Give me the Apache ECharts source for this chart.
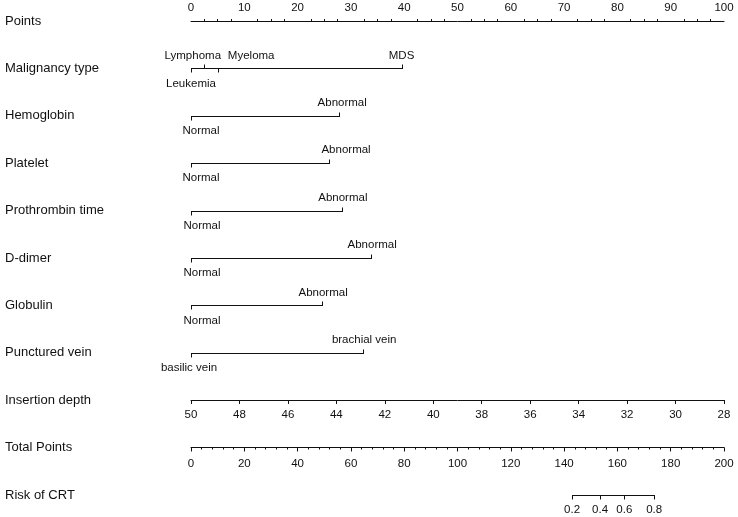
<!DOCTYPE html>
<html>
<head>
<meta charset="utf-8">
<script src="https://cdn.jsdelivr.net/npm/echarts@6/dist/echarts.min.js"></script>
<style>
  html, body { margin: 0; padding: 0; background: #fff; }
  #chart { width: 738px; height: 517px; }
</style>
</head>
<body>
<div id="chart"></div>
<script>
// row names, top to bottom
const rowNames = [
  'Points', 'Malignancy type', 'Hemoglobin', 'Platelet', 'Prothrombin time',
  'D-dimer', 'Globulin', 'Punctured vein', 'Insertion depth', 'Total Points', 'Risk of CRT'
];

// categorical predictors: level names and their points
const malignancyLevels = ['Leukemia', 'Lymphoma', 'Myeloma', 'MDS'];
const malignancyPoints = [0, 2.4, 5.1, 39.5];
const binaryLevels = ['Normal', 'Abnormal'];
const hemoglobinPoints = [0, 27.8];
const plateletPoints = [0, 25.9];
const prothrombinPoints = [0, 28.3];
const ddimerPoints = [0, 33.8];
const globulinPoints = [0, 24.6];
const veinLevels = ['basilic vein', 'brachial vein'];
const veinPoints = [0, 32.3];

// continuous scales
const pointsRange = [0, 100];
const depthRange = [28, 50];
const totalRange = [0, 200];

// risk axis: probabilities and where they sit on the total points scale
const riskLabels = ['0.2', '0.4', '0.6', '0.8'];
const riskTotalPoints = [143, 153.5, 162.6, 173.8];

const INK = '#111';
const FONT = '"Liberation Sans", Arial, sans-serif';
const UP = 1, DOWN = -1;

// tick direction, label side and small label nudges in px
const rows = [
  { row: 1, pts: malignancyPoints, labels: malignancyLevels,
    tick: [DOWN, UP, DOWN, UP], side: [DOWN, UP, UP, UP], nudge: [0, -11, 33, 0] },
  { row: 2, pts: hemoglobinPoints, labels: binaryLevels, tick: [DOWN, UP], side: [DOWN, UP], nudge: [10, 3] },
  { row: 3, pts: plateletPoints, labels: binaryLevels, tick: [DOWN, UP], side: [DOWN, UP], nudge: [10, 17] },
  { row: 4, pts: prothrombinPoints, labels: binaryLevels, tick: [DOWN, UP], side: [DOWN, UP], nudge: [11, 1] },
  { row: 5, pts: ddimerPoints, labels: binaryLevels, tick: [DOWN, UP], side: [DOWN, UP], nudge: [11, 1] },
  { row: 6, pts: globulinPoints, labels: binaryLevels, tick: [DOWN, UP], side: [DOWN, UP], nudge: [11, 1] },
  { row: 7, pts: veinPoints, labels: veinLevels, tick: [DOWN, UP], side: [DOWN, UP], nudge: [-2, 1] }
];

const tickList = [];
rows.forEach(r => r.pts.forEach((p, i) => {
  tickList.push({ x: p, row: r.row, label: r.labels[i], tick: r.tick[i], side: r.side[i], nudge: r.nudge[i] });
}));
const riskTicks = riskTotalPoints.map((t, i) => ({
  x: t, row: 10, label: riskLabels[i], tick: DOWN, side: DOWN, nudge: 0
}));

const crisp = v => Math.round(v) + 0.5;

function tickItem(t, api) {
  const p = api.coord([api.value(0), api.value(1)]);
  const x = crisp(p[0]), y = crisp(p[1]);
  const above = t.side === UP;
  return {
    type: 'group',
    children: [
      { type: 'line', shape: { x1: x, y1: y, x2: x, y2: y + (t.tick === UP ? -4 : 4) },
        style: { stroke: INK, lineWidth: 1 } },
      { type: 'text', x: p[0] + t.nudge, y: p[1] + (above ? -13 : 15),
        style: { text: t.label, fill: INK, font: '11.5px ' + FONT, align: 'center', verticalAlign: 'middle' } }
    ]
  };
}

function segItem(params, api) {
  const a = api.coord([api.value(0), api.value(1)]);
  const b = api.coord([api.value(2), api.value(1)]);
  const y = crisp(a[1]);
  return { type: 'line', shape: { x1: crisp(a[0]) - 0.5, y1: y, x2: crisp(b[0]) + 0.5, y2: y },
    style: { stroke: INK, lineWidth: 1 } };
}

const axisCommon = {
  axisLine: { show: true, onZero: false, lineStyle: { color: INK, width: 1 } },
  axisTick: { length: 4, lineStyle: { color: INK } },
  axisLabel: { color: INK, fontSize: 11.5, fontFamily: FONT, margin: 7 },
  splitLine: { show: false }
};
const lowerLabel = m => Object.assign({}, axisCommon.axisLabel, { margin: m });

const chart = echarts.init(document.getElementById('chart'));
chart.setOption({
  animation: false,
  backgroundColor: '#fff',
  grid: [
    { left: 191, right: 14, top: 21, bottom: 22 },
    { left: 191, right: 14, top: 390, height: 10 },
    { left: 191, right: 14, top: 437.5, height: 10 }
  ],
  xAxis: [
    Object.assign({}, axisCommon, {
      gridIndex: 0, type: 'value', position: 'top', min: pointsRange[0], max: pointsRange[1], interval: 10,
      minorTick: { show: true, splitNumber: 4, length: 2, lineStyle: { color: INK } }
    }),
    { gridIndex: 0, type: 'value', position: 'bottom', min: totalRange[0], max: totalRange[1], show: false },
    Object.assign({}, axisCommon, {
      gridIndex: 1, type: 'value', position: 'bottom', min: depthRange[0], max: depthRange[1], interval: 2, inverse: true,
      axisLabel: lowerLabel(9)
    }),
    Object.assign({}, axisCommon, {
      gridIndex: 2, type: 'value', position: 'bottom', min: totalRange[0], max: totalRange[1], interval: 20,
      minorTick: { show: true, splitNumber: 5, length: 2, lineStyle: { color: INK } },
      axisLabel: lowerLabel(10)
    })
  ],
  yAxis: [
    {
      gridIndex: 0, type: 'category', data: rowNames, inverse: true, boundaryGap: false,
      axisLine: { show: false }, axisTick: { show: false }, splitLine: { show: false },
      axisLabel: { align: 'left', margin: 186, color: INK, fontSize: 13, fontFamily: FONT, interval: 0 }
    },
    { gridIndex: 1, type: 'value', show: false },
    { gridIndex: 2, type: 'value', show: false }
  ],
  series: [
    {
      type: 'custom', xAxisIndex: 0, yAxisIndex: 0,
      encode: { x: [0, 2], y: 1 },
      data: rows.map(r => [Math.min(...r.pts), r.row, Math.max(...r.pts)]),
      renderItem: segItem
    },
    {
      type: 'custom', xAxisIndex: 0, yAxisIndex: 0,
      encode: { x: 0, y: 1 },
      data: tickList.map(t => [t.x, t.row]),
      renderItem: (params, api) => tickItem(tickList[params.dataIndex], api)
    },
    {
      type: 'custom', xAxisIndex: 1, yAxisIndex: 0,
      encode: { x: [0, 2], y: 1 },
      data: [[riskTotalPoints[0], 10, riskTotalPoints[riskTotalPoints.length - 1]]],
      renderItem: segItem
    },
    {
      type: 'custom', xAxisIndex: 1, yAxisIndex: 0,
      encode: { x: 0, y: 1 },
      data: riskTicks.map(t => [t.x, t.row]),
      renderItem: (params, api) => tickItem(riskTicks[params.dataIndex], api)
    }
  ]
});
</script>
</body>
</html>
